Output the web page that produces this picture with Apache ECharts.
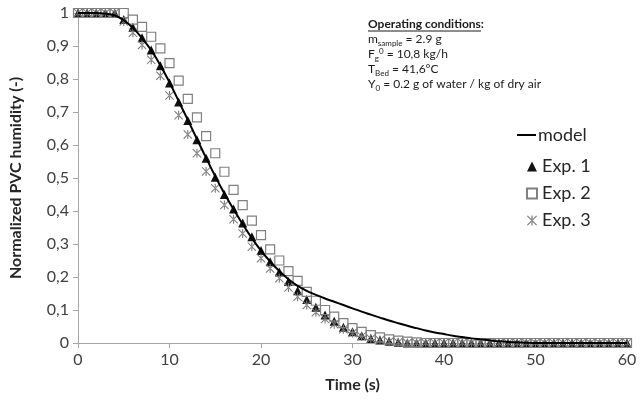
<!DOCTYPE html>
<html>
<head>
<meta charset="utf-8">
<script src="https://cdn.jsdelivr.net/npm/echarts@6/dist/echarts.min.js"></script>
<style>
html,body{margin:0;padding:0;background:#fff;}
#chart{width:642px;height:401px;}
</style>
</head>
<body>
<div id="chart"></div>
<script>
var time = [0,1,2,3,4,5,6,7,8,9,10,11,12,13,14,15,16,17,18,19,20,21,22,23,24,25,26,27,28,29,30,31,32,33,34,35,36,37,38,39,40,41,42,43,44,45,46,47,48,49,50,51,52,53,54,55,56,57,58,59,60];

var model = [1,1,1,0.998,0.993,0.978,0.955,0.924,0.887,0.842,0.79,0.733,0.676,0.618,0.561,0.505,0.453,0.405,0.36,0.318,0.28,0.247,0.218,0.193,0.173,0.158,0.146,0.135,0.125,0.115,0.105,0.095,0.086,0.077,0.068,0.06,0.052,0.045,0.038,0.032,0.027,0.022,0.018,0.014,0.011,0.008,0.005,0.003,0.002,0.001,0,0,0,0,0,0,0,0,0,0,0];

var exp1 = [1,1,1,1,1,0.98,0.957,0.925,0.888,0.84,0.788,0.73,0.674,0.616,0.56,0.502,0.45,0.406,0.364,0.322,0.28,0.246,0.215,0.186,0.158,0.132,0.108,0.085,0.066,0.048,0.034,0.022,0.014,0.009,0.005,0.002,0,0,0,0,0,0,0,0,0,0,0,0,0,0,0,0,0,0,0,0,0,0,0,0,0];

var exp2 = [1,1,1,1,1,1,0.98,0.958,0.928,0.893,0.848,0.795,0.74,0.684,0.627,0.575,0.519,0.464,0.418,0.371,0.327,0.284,0.25,0.218,0.188,0.155,0.128,0.1,0.08,0.06,0.045,0.034,0.024,0.017,0.011,0.007,0.004,0.002,0,0,0,0,0,0,0,0,0,0,0,0,0,0,0,0,0,0,0,0,0,0,0];

var exp3 = [1,1,1,1,1,0.974,0.94,0.903,0.858,0.81,0.75,0.69,0.632,0.575,0.52,0.469,0.418,0.375,0.332,0.292,0.257,0.226,0.196,0.168,0.14,0.115,0.093,0.073,0.057,0.042,0.03,0.02,0.013,0.008,0.004,0.002,0,0,0,0,0,0,0,0,0,0,0,0,0,0,0,0,0,0,0,0,0,0,0,0,0];

var seriesNames = ['model','Exp. 1','Exp. 2','Exp. 3'];
var xTicks = [0,10,20,30,40,50,60];

function pairs(vals){ return time.map(function(t,i){ return [t, vals[i]]; }); }

var starPath = 'path://M4.4,0L5.6,0L5.6,10L4.4,10Z M0,0.8L0.8,0L10,9.2L9.2,10Z M10,0.8L9.2,0L0,9.2L0.8,10Z';
var FONT = 'Lato, "Open Sans", sans-serif';

var chart = echarts.init(document.getElementById('chart'), null, {renderer:'canvas'});
chart.setOption({
  animation:false,
  backgroundColor:'#ffffff',
  grid:{left:76,right:15,top:13,bottom:58,containLabel:false},
  xAxis:{
    type:'value',min:0,max:60,interval:10,
    name:'Time (s)',nameLocation:'middle',nameGap:34,
    nameTextStyle:{fontFamily:FONT,fontSize:16,fontWeight:'bold',color:'#262626'},
    axisLine:{show:true,lineStyle:{color:'#a6a6a6',width:1}},
    axisTick:{show:true,length:5,lineStyle:{color:'#a6a6a6'}},
    axisLabel:{fontFamily:FONT,fontSize:16,color:'#404040',margin:9,
      formatter:function(v){ return xTicks.indexOf(v)>=0 ? String(v) : ''; }},
    splitLine:{show:false}
  },
  yAxis:{
    type:'value',min:0,max:1,interval:0.1,
    name:'Normalized PVC humidity (-)',nameLocation:'middle',nameGap:54,
    nameTextStyle:{fontFamily:FONT,fontSize:16,fontWeight:'bold',color:'#262626'},
    axisLine:{show:true,lineStyle:{color:'#a6a6a6',width:1}},
    axisTick:{show:true,length:5,lineStyle:{color:'#a6a6a6'}},
    axisLabel:{fontFamily:FONT,fontSize:16,color:'#404040',margin:9,
      formatter:function(v){ if(Math.abs(v)<1e-9) return '0'; if(Math.abs(v-1)<1e-9) return '1'; return v.toFixed(1).replace('.',','); }},
    splitLine:{show:false}
  },
  legend:[
    {data:[{name:seriesNames[0],icon:'rect'}],left:512,top:120,itemWidth:19,itemHeight:2,
     itemStyle:{color:'#000000',borderWidth:0},
     textStyle:{fontFamily:FONT,fontSize:18,color:'#262626',lineHeight:20,padding:[0,0,0,-3]}},
    {data:seriesNames.slice(1),orient:'vertical',left:521,top:152,itemWidth:10,itemHeight:10,itemGap:8,
     textStyle:{fontFamily:FONT,fontSize:18,color:'#262626',lineHeight:19}}
  ],
  graphic:[
    {type:'text',left:368,top:17,z:10,
     style:{
       text:'{b|Operating conditions:}\nm{sub|sample} = 2.9 g\nF{sub|g}{sup|0} = 10,8 kg/h\nT{sub|Bed} = 41,6°C\nY{sub|0} = 0.2 g of water / kg of dry air',
       fontFamily:FONT,fontSize:12,fill:'#1a1a1a',lineHeight:15,
       rich:{
         b:{fontFamily:FONT,fontSize:12,fontWeight:'bold',fill:'#1a1a1a',lineHeight:15},
         sub:{fontFamily:FONT,fontSize:8,fill:'#1a1a1a',lineHeight:15,verticalAlign:'bottom'},
         sup:{fontFamily:FONT,fontSize:8,fill:'#1a1a1a',lineHeight:15,verticalAlign:'top'}
       }
     }},
    {type:'line',z:10,shape:{x1:368,y1:31,x2:481,y2:31},style:{stroke:'#1a1a1a',lineWidth:1}}
  ],
  series:[
    {name:seriesNames[0],type:'line',data:pairs(model),showSymbol:false,symbol:'none',
     smooth:0.3,z:5,lineStyle:{color:'#000000',width:2},itemStyle:{color:'#000000'}},
    {name:seriesNames[1],type:'scatter',data:pairs(exp1),symbol:'triangle',symbolSize:9,z:2,
     itemStyle:{color:'#111111',opacity:1}},
    {name:seriesNames[2],type:'scatter',data:pairs(exp2),symbol:'rect',symbolSize:9,z:3,
     itemStyle:{color:'rgba(255,255,255,0)',borderColor:'#808080',borderWidth:1.2,opacity:1}},
    {name:seriesNames[3],type:'scatter',data:pairs(exp3),symbol:starPath,symbolSize:9,z:4,
     itemStyle:{color:'#7a7a7a',opacity:1}}
  ]
});
</script>
</body>
</html>
